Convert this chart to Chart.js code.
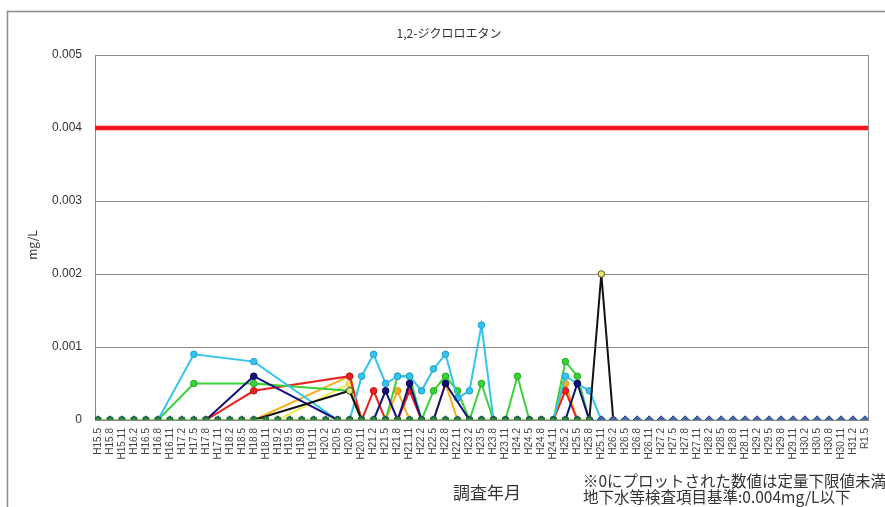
<!DOCTYPE html>
<html lang="ja">
<head>
<meta charset="utf-8">
<title>1,2-ジクロロエタン</title>
<script src="https://cdn.jsdelivr.net/npm/chart.js@4.4.1/dist/chart.umd.min.js"></script>
<style>
  html, body { margin: 0; padding: 0; background: #fff; }
  #wrap { width: 885px; height: 507px; }
</style>
</head>
<body>
<div id="wrap"><canvas id="chart" width="885" height="507"></canvas></div>
<script>
// ---- 調査年月 (x軸ラベル) ----
const LABELS = [
  'H15.5', 'H15.8', 'H15.11', 'H16.2', 'H16.5', 'H16.8', 'H16.11', 'H17.2', 'H17.5', 'H17.8',
  'H17.11', 'H18.2', 'H18.5', 'H18.8', 'H18.11', 'H19.2', 'H19.5', 'H19.8', 'H19.11', 'H20.2',
  'H20.5', 'H20.8', 'H20.11', 'H21.2', 'H21.5', 'H21.8', 'H21.11', 'H22.2', 'H22.5', 'H22.8',
  'H22.11', 'H23.2', 'H23.5', 'H23.8', 'H23.11', 'H24.2', 'H24.5', 'H24.8', 'H24.11', 'H25.2',
  'H25.5', 'H25.8', 'H25.11', 'H26.2', 'H26.5', 'H26.8', 'H26.11', 'H27.2', 'H27.5', 'H27.8',
  'H27.11', 'H28.2', 'H28.5', 'H28.8', 'H28.11', 'H29.2', 'H29.5', 'H29.8', 'H29.11', 'H30.2',
  'H30.5', 'H30.8', 'H30.11', 'H31.2', 'R1.5'
];

const Y_TICKS = [0, 0.001, 0.002, 0.003, 0.004, 0.005];
const STANDARD = 0.004;   // 地下水等検査項目基準 (mg/L)

// ---- 測定値 (mg/L)  null = 未測定 ----
const _ = null;

// 定量下限値未満 (0プロット) の井戸
const WELL_A = [
  0, 0, 0, 0, 0, 0, 0, 0, 0, 0,
  0, 0, 0, 0, 0, 0, 0, 0, 0, 0,
  0, 0, 0, 0, 0, 0, 0, 0, 0, 0,
  0, 0, 0, 0, 0, 0, 0, 0, 0, 0,
  0, 0, _, _, _, _, _, _, _, _,
  _, _, _, _, _, _, _, _, _, _,
  _, _, _, _, _
];
const WELL_B = [
  0, 0, 0, 0, 0, 0, 0, 0, 0, 0,
  0, 0, 0, 0, 0, 0, 0, 0, 0, 0,
  0, 0, 0, 0, 0, 0, 0, 0, 0, 0,
  0, 0, 0, 0, 0, 0, 0, 0, 0, 0,
  0, 0, 0, 0, 0, 0, 0, 0, 0, 0,
  0, 0, 0, 0, 0, 0, 0, 0, 0, 0,
  0, 0, 0, 0, 0
];

const WELL_BLACK = [
  _, _, _, _, _, _, _, _, _, _,
  _, _, _, 0, _, _, _, _, _, _,
  _, 0.0004, 0, _, _, _, _, _, _, _,
  _, _, _, _, _, _, _, _, _, _,
  _, 0, 0.002, 0, _, _, _, _, _, _,
  _, _, _, _, _, _, _, _, _, _,
  _, _, _, _, _
];
const WELL_NAVY = [
  _, _, _, _, _, _, _, _, _, 0,
  _, _, _, 0.0006, _, _, _, _, _, _,
  0, 0, 0, 0, 0.0004, 0, 0.0005, 0, 0, 0.0005,
  _, 0, 0, 0, 0, 0, 0, 0, 0, 0,
  0.0005, 0, _, _, _, _, _, _, _, _,
  _, _, _, _, _, _, _, _, _, _,
  _, _, _, _, _
];
const WELL_CYAN = [
  0, 0, 0, 0, 0, 0, _, _, 0.0009, _,
  _, _, _, 0.0008, _, _, _, _, _, _,
  0, 0, 0.0006, 0.0009, 0.0005, 0.0006, 0.0006, 0.0004, 0.0007, 0.0009,
  0.0003, 0.0004, 0.0013, 0, 0, 0, 0, 0, 0, 0.0006,
  0.0005, 0.0004, 0, _, _, _, _, _, _, _,
  _, _, _, _, _, _, _, _, _, _,
  _, _, _, _, _
];
const WELL_GREEN = [
  _, _, _, _, _, 0, _, _, 0.0005, _,
  _, _, _, 0.0005, _, _, _, _, _, _,
  _, 0.0004, 0, _, 0, 0.0006, 0.0006, 0, 0.0004, 0.0006,
  0.0004, 0, 0.0005, 0, 0, 0.0006, 0, _, 0, 0.0008,
  0.0006, 0, _, _, _, _, _, _, _, _,
  _, _, _, _, _, _, _, _, _, _,
  _, _, _, _, _
];
const WELL_RED = [
  _, _, _, _, _, _, _, _, _, 0,
  _, _, _, 0.0004, _, _, _, _, _, _,
  _, 0.0006, 0, 0.0004, 0, 0, 0.0004, 0, _, _,
  _, _, _, _, _, _, _, _, 0, 0.0004,
  0, _, _, _, _, _, _, _, _, _,
  _, _, _, _, _, _, _, _, _, _,
  _, _, _, _, _
];
const WELL_ORANGE = [
  _, _, _, _, _, _, _, _, _, _,
  _, _, _, 0, _, _, _, _, _, _,
  _, 0.0006, 0, _, 0, 0.0004, 0, _, 0, 0.0005,
  0, _, _, _, _, _, _, _, 0, 0.0005,
  0, _, _, _, _, _, _, _, _, _,
  _, _, _, _, _, _, _, _, _, _,
  _, _, _, _, _
];
const WELL_YELLOW = [
  _, _, _, _, _, _, _, _, _, _,
  _, _, _, _, _, 0, _, _, _, _,
  _, 0.0005, 0, _, _, _, _, _, _, _,
  _, _, _, _, _, _, _, _, _, _,
  _, _, _, _, _, _, _, _, _, _,
  _, _, _, _, _, _, _, _, _, _,
  _, _, _, _, _
];

// x軸は少し内側から始める
const X_MIN = -0.25;
const X_MAX = LABELS.length - 1 + 0.25;

const toPoints = arr => arr.map((v, i) => ({ x: i, y: v }));

function well(data, line, fill, border, shape, radius) {
  return {
    data: toPoints(data),
    borderColor: line,
    backgroundColor: fill,
    pointBorderColor: border,
    pointBackgroundColor: fill,
    pointStyle: shape || 'circle',
    pointRadius: radius || 3.3,
    pointBorderWidth: 1,
    borderWidth: 2,
    spanGaps: true,
    tension: 0
  };
}

const datasets = [
  {
    data: [{ x: X_MIN, y: STANDARD }, { x: X_MAX, y: STANDARD }],
    borderColor: '#f0141e',
    borderWidth: 4.5,
    pointRadius: 0
  },
  well(WELL_A, '#8fd16a', '#2f8a3c', '#1f6a2a', 'rect', 3.8),
  well(WELL_B, '#bfe6ef', '#4a67a8', '#27407c', 'rectRot', 4.2),
  well(WELL_BLACK, '#111111', '#e8e87a', '#55551a'),
  well(WELL_NAVY, '#10107a', '#10107a', '#000050'),
  well(WELL_CYAN, '#35c4ee', '#35c4ee', '#1e9fd0'),
  well(WELL_GREEN, '#3ad13a', '#3ad13a', '#22a822'),
  well(WELL_RED, '#ee2020', '#ee2020', '#c01010'),
  well(WELL_ORANGE, '#ffae1a', '#ffae1a', '#e08a00'),
  well(WELL_YELLOW, '#f2ea5a', '#f2ea5a', '#c8c030')
];

const frameAndText = {
  id: 'frameAndText',
  beforeDatasetsDraw(chart) {
    const { ctx, chartArea: a } = chart;
    ctx.save();
    ctx.strokeStyle = '#8a8a8a';
    ctx.lineWidth = 1;
    ctx.strokeRect(a.left + 0.5, a.top + 0.5, a.right - a.left, a.bottom - a.top);
    ctx.restore();
  },
  afterDraw(chart) {
    const ctx = chart.ctx;
    ctx.save();
    // 外枠
    ctx.strokeStyle = '#8a8a8a';
    ctx.lineWidth = 1.5;
    ctx.beginPath();
    ctx.moveTo(7.5, 507);
    ctx.lineTo(7.5, 11.5);
    ctx.lineTo(885, 11.5);
    ctx.stroke();

    ctx.fillStyle = '#333';
    ctx.textBaseline = 'middle';
    ctx.textAlign = 'center';
    ctx.font = '12px "Noto Sans CJK JP"';
    ctx.fillText('1,2-ジクロロエタン', 449, 33);

    ctx.font = '17px "Noto Sans CJK JP"';
    ctx.fillText('調査年月', 487, 493);

    ctx.save();
    ctx.translate(32, 245);
    ctx.rotate(-Math.PI / 2);
    ctx.font = '12px "Noto Sans CJK JP"';
    ctx.fillText('mg/L', 0, 0);
    ctx.restore();

    ctx.textAlign = 'left';
    ctx.font = '15.5px "Noto Sans CJK JP"';
    ctx.fillText('※0にプロットされた数値は定量下限値未満', 583, 481);
    ctx.fillText('地下水等検査項目基準:0.004mg/L以下', 583, 497);
    ctx.restore();
  }
};

new Chart(document.getElementById('chart').getContext('2d'), {
  type: 'line',
  data: { datasets },
  options: {
    responsive: false,
    animation: false,
    events: [],
    layout: { padding: { top: 55, right: 12, left: 0, bottom: 0 } },
    plugins: { legend: { display: false }, tooltip: { enabled: false } },
    scales: {
      x: {
        type: 'linear',
        min: X_MIN,
        max: X_MAX,
        afterBuildTicks: s => { s.ticks = LABELS.map((l, i) => ({ value: i })); },
        afterFit: s => { s.height = 87; },
        grid: { display: false, drawTicks: false },
        border: { display: false },
        ticks: {
          autoSkip: false,
          minRotation: 90,
          maxRotation: 90,
          padding: 8,
          color: '#444',
          font: { family: 'Liberation Sans', size: 10 },
          callback: v => LABELS[v]
        }
      },
      y: {
        min: Y_TICKS[0],
        max: Y_TICKS[Y_TICKS.length - 1],
        afterBuildTicks: s => { s.ticks = Y_TICKS.map(v => ({ value: v })); },
        afterFit: s => { s.width = 95; },
        grid: { color: '#8a8a8a', drawTicks: false },
        border: { display: false },
        ticks: {
          padding: 13,
          color: '#333',
          font: { family: 'Liberation Sans', size: 12 },
          callback: v => (v === 0 ? '0' : v.toFixed(3))
        }
      }
    }
  },
  plugins: [frameAndText]
});
</script>
</body>
</html>
